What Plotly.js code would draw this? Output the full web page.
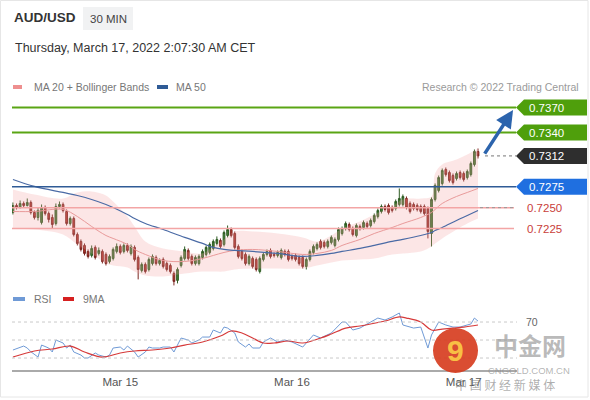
<!DOCTYPE html>
<html>
<head>
<meta charset="utf-8">
<script src="https://cdn.plot.ly/plotly-3.0.1.min.js"></script>
<style>html,body{margin:0;padding:0;background:#fff;}#chart{width:590px;height:400px;}</style>
</head>
<body>
<div id="chart"></div>
<script>
// ---------- DATA ----------
const startTime = Date.UTC(2022, 2, 14, 9, 0); // first 30-min candle
const stepMinutes = 30;

const openP = [
0.72442,0.72526,0.72502,0.72550,0.72526,0.72562,0.72442,0.72382,0.72322,0.72502,
0.72430,0.72382,0.72310,0.72514,0.72538,0.72454,0.72310,0.72370,0.72178,0.72095,
0.72047,0.71975,0.71927,0.72023,0.71951,0.71975,0.71939,0.71855,0.71891,0.71975,
0.72035,0.71975,0.72047,0.71951,0.72023,0.71903,0.71747,0.71819,0.71759,0.71831,
0.71903,0.71831,0.71879,0.71831,0.71807,0.71711,0.71628,0.71807,0.71891,0.71987,
0.71915,0.71831,0.71831,0.71903,0.71939,0.71963,0.72011,0.72071,0.72107,0.72059,
0.72166,0.72238,0.72190,0.72035,0.71975,0.71939,0.71831,0.71891,0.71879,0.71735,
0.71879,0.71939,0.71987,0.71939,0.71927,0.71903,0.71975,0.71975,0.71915,0.71927,
0.71903,0.71903,0.71795,0.71879,0.71963,0.72011,0.72095,0.72083,0.72035,0.72083,
0.72047,0.72119,0.72190,0.72250,0.72298,0.72250,0.72166,0.72274,0.72262,0.72310,
0.72286,0.72334,0.72394,0.72454,0.72514,0.72526,0.72502,0.72490,0.72538,0.72538,
0.72610,0.72550,0.72538,0.72526,0.72514,0.72514,0.72490,0.72190,0.72598,0.72706,
0.72789,0.72957,0.72921,0.72885,0.72849,0.72921,0.72909,0.72861,0.72897,0.73017,
0.73173];
const highP = [
0.72562,0.72550,0.72586,0.72574,0.72610,0.72586,0.72466,0.72502,0.72538,0.72526,
0.72454,0.72418,0.72550,0.72574,0.72562,0.72478,0.72394,0.72394,0.72202,0.72119,
0.72071,0.71999,0.72047,0.72047,0.72023,0.71999,0.71963,0.71939,0.72023,0.72071,
0.72059,0.72071,0.72071,0.72059,0.72047,0.71927,0.71843,0.71843,0.71903,0.71939,
0.71927,0.71891,0.71903,0.71855,0.71831,0.71735,0.71783,0.71927,0.72035,0.72011,
0.71939,0.71927,0.71939,0.71999,0.72047,0.72083,0.72119,0.72155,0.72131,0.72226,
0.72286,0.72262,0.72214,0.72059,0.71999,0.71963,0.71939,0.71915,0.71903,0.71915,
0.71963,0.71999,0.72011,0.71963,0.71987,0.72011,0.71999,0.71999,0.71939,0.71951,
0.71927,0.71927,0.71903,0.71999,0.72059,0.72083,0.72119,0.72107,0.72119,0.72166,
0.72143,0.72262,0.72274,0.72334,0.72322,0.72274,0.72310,0.72298,0.72346,0.72334,
0.72370,0.72430,0.72490,0.72538,0.72538,0.72550,0.72526,0.72598,0.72730,0.72658,
0.72634,0.72574,0.72562,0.72550,0.72538,0.72538,0.72514,0.72622,0.72790,0.72885,
0.72969,0.72981,0.72945,0.72909,0.72933,0.72945,0.72933,0.72957,0.73053,0.73197,
0.73209];
const lowP = [
0.72418,0.72478,0.72490,0.72502,0.72514,0.72418,0.72358,0.72346,0.72298,0.72406,
0.72322,0.72250,0.72286,0.72490,0.72442,0.72286,0.72286,0.72155,0.72047,0.71975,
0.71927,0.71891,0.71903,0.71879,0.71927,0.71831,0.71807,0.71831,0.71867,0.71951,
0.71939,0.71951,0.71963,0.71927,0.71855,0.71640,0.71723,0.71711,0.71735,0.71807,
0.71807,0.71807,0.71771,0.71735,0.71711,0.71568,0.71592,0.71783,0.71867,0.71867,
0.71807,0.71807,0.71807,0.71879,0.71915,0.71939,0.71987,0.72047,0.72011,0.72035,
0.72143,0.72143,0.71999,0.71891,0.71867,0.71807,0.71807,0.71771,0.71735,0.71711,
0.71855,0.71915,0.71891,0.71903,0.71903,0.71879,0.71915,0.71855,0.71867,0.71855,
0.71807,0.71771,0.71759,0.71855,0.71939,0.71987,0.71999,0.72011,0.72011,0.72059,
0.72023,0.72095,0.72166,0.72226,0.72214,0.72155,0.72143,0.72226,0.72238,0.72250,
0.72262,0.72310,0.72370,0.72430,0.72454,0.72418,0.72442,0.72466,0.72514,0.72514,
0.72478,0.72430,0.72466,0.72454,0.72430,0.72406,0.72131,0.72035,0.72574,0.72682,
0.72765,0.72873,0.72801,0.72777,0.72825,0.72837,0.72813,0.72837,0.72873,0.72993,
0.73089];
const closeP = [
0.72526,0.72502,0.72550,0.72526,0.72562,0.72442,0.72382,0.72466,0.72502,0.72430,
0.72358,0.72298,0.72514,0.72538,0.72466,0.72310,0.72370,0.72178,0.72071,0.71999,
0.71951,0.71915,0.72011,0.71903,0.71987,0.71855,0.71831,0.71915,0.71999,0.72035,
0.71963,0.72047,0.71987,0.72035,0.71879,0.71759,0.71819,0.71735,0.71879,0.71915,
0.71831,0.71867,0.71795,0.71759,0.71735,0.71616,0.71759,0.71903,0.71999,0.71891,
0.71831,0.71903,0.71915,0.71975,0.72023,0.72059,0.72095,0.72119,0.72035,0.72202,
0.72238,0.72166,0.72023,0.71915,0.71891,0.71831,0.71915,0.71795,0.71759,0.71891,
0.71939,0.71975,0.71915,0.71927,0.71963,0.71987,0.71939,0.71879,0.71891,0.71879,
0.71831,0.71795,0.71879,0.71975,0.72035,0.72059,0.72023,0.72035,0.72095,0.72143,
0.72119,0.72238,0.72250,0.72310,0.72238,0.72178,0.72286,0.72250,0.72322,0.72274,
0.72346,0.72406,0.72466,0.72514,0.72478,0.72442,0.72466,0.72574,0.72610,0.72634,
0.72502,0.72454,0.72490,0.72478,0.72454,0.72430,0.72214,0.72598,0.72766,0.72861,
0.72945,0.72897,0.72825,0.72801,0.72909,0.72861,0.72837,0.72933,0.73029,0.73173,
0.73120];

// Bollinger bands / moving averages read at selected candles
const bandIdx = [0,6,14,18,22,26,28,32,34,37,42,48,53,56,59,62,67,74,81,85,89,92,97,101,106,109,114,117,118,120,124,127,130];
const bbUpper = [0.72718,0.72658,0.72610,0.72682,0.72694,0.72646,0.72574,0.72394,0.72274,0.72095,0.72011,0.71975,0.71951,0.72035,0.72119,0.72214,0.72214,0.72190,0.72143,0.72095,0.72166,0.72250,0.72334,0.72418,0.72514,0.72598,0.72610,0.72634,0.72909,0.73017,0.73077,0.73137,0.73209];
const bbLower = [0.72250,0.72238,0.72178,0.72059,0.71951,0.71831,0.71807,0.71783,0.71735,0.71687,0.71675,0.71711,0.71735,0.71735,0.71735,0.71759,0.71771,0.71771,0.71771,0.71807,0.71843,0.71867,0.71879,0.71891,0.71939,0.71951,0.71975,0.72035,0.72071,0.72131,0.72238,0.72310,0.72370];
const ma20 = [0.72454,0.72454,0.72478,0.72394,0.72274,0.72166,0.72131,0.72059,0.71999,0.71939,0.71867,0.71855,0.71891,0.71927,0.71963,0.71987,0.71999,0.71975,0.71939,0.71951,0.71987,0.72047,0.72119,0.72190,0.72262,0.72310,0.72382,0.72442,0.72478,0.72550,0.72634,0.72682,0.72730];
const ma50 = [0.72837,0.72754,0.72682,0.72646,0.72598,0.72538,0.72502,0.72418,0.72370,0.72310,0.72238,0.72143,0.72071,0.72023,0.71999,0.71987,0.71975,0.71951,0.71915,0.71927,0.71951,0.71975,0.72011,0.72047,0.72095,0.72119,0.72166,0.72202,0.72226,0.72262,0.72346,0.72406,0.72466];

// RSI panel
const rsiIdx = [0,3,4,5,7,8,10,11,12,14,15,16,17,19,20,21,23,24,26,27,28,30,31,32,34,35,37,38,39,41,42,44,45,46,47,49,50,52,53,55,56,58,59,60,62,63,65,66,67,69,70,72,73,74,76,77,78,81,84,86,89,92,93,95,97,100,102,104,106,108,109,112,114,116,117,119,121,123,125,126,128,129,130];
const rsiVal = [38.9,43.3,41.1,37.0,31.1,44.4,41.1,36.7,50.0,46.7,41.1,44.4,36.7,33.3,30.0,30.0,35.6,33.3,31.1,33.3,41.1,42.2,38.9,43.3,36.7,31.1,36.7,42.2,41.1,41.1,42.2,42.2,36.7,44.4,52.2,50.0,46.7,50.0,53.3,53.3,61.1,57.8,64.4,63.3,57.8,47.8,42.2,45.6,41.1,41.1,47.8,52.2,50.0,47.8,50.0,48.9,47.8,42.2,55.6,52.2,57.8,70.0,70.0,61.1,63.3,70.0,74.4,72.2,75.6,80.0,66.7,63.3,64.4,41.1,55.6,70.0,66.7,64.4,64.4,65.6,67.8,74.4,71.0];
const rsiMaIdx = [0,6,11,16,20,25,30,34,39,44,48,53,58,61,64,67,70,73,77,81,86,89,93,97,100,104,108,110,114,117,120,123,126,130];
const rsiMaVal = [31.1,37.8,40.0,43.3,36.7,31.1,35.6,37.8,38.9,41.1,44.4,47.8,54.4,60.0,57.8,52.2,46.7,46.7,48.9,46.7,52.2,56.7,63.3,65.6,67.8,71.1,75.6,74.4,70.0,61.1,62.2,63.3,64.4,66.7];
const rsiLevels = [70, 50, 30];

// Key levels
const resistances = [0.7370, 0.7340];
const pivot = 0.7275;
const supports = [0.7250, 0.7225];
const lastPrice = 0.7312;
const tickVals = ['2022-03-15', '2022-03-16', '2022-03-17'];
const tickText = ['Mar 15', 'Mar 16', 'Mar 17'];

// ---------- BUILD ----------
function t(idx) {
  const d = new Date(startTime + idx * stepMinutes * 60000);
  return d.toISOString().slice(0, 16).replace('T', ' ');
}
const times = closeP.map((_, i) => t(i));
const bandT = bandIdx.map(t);

const FONT = 'Liberation Sans, Arial, sans-serif';
const traces = [
  {type: 'scatter', mode: 'lines', x: bandT, y: bbUpper, line: {width: 0, shape: 'spline'}, hoverinfo: 'skip', showlegend: false},
  {type: 'scatter', mode: 'lines', x: bandT, y: bbLower, line: {width: 0, shape: 'spline'}, fill: 'tonexty', fillcolor: 'rgba(244,160,160,0.26)', hoverinfo: 'skip', showlegend: false},
  {type: 'scatter', mode: 'lines', x: bandT, y: ma20, line: {width: 1, color: '#e99a9a', shape: 'spline'}, hoverinfo: 'skip', showlegend: false},
  {type: 'scatter', mode: 'lines', x: bandT, y: ma50, line: {width: 1.2, color: '#4a6aa5', shape: 'spline'}, hoverinfo: 'skip', showlegend: false},
  {type: 'candlestick', x: times, open: openP, high: highP, low: lowP, close: closeP,
   increasing: {line: {color: '#2f5d24', width: 1}, fillcolor: '#457f35'},
   decreasing: {line: {color: '#7a2620', width: 1}, fillcolor: '#b8352a'},
   whiskerwidth: 0, hoverinfo: 'skip', showlegend: false},
  {type: 'scatter', mode: 'lines', x: rsiIdx.map(t), y: rsiVal, xaxis: 'x', yaxis: 'y2', line: {width: 1, color: '#6f9ad6'}, hoverinfo: 'skip', showlegend: false},
  {type: 'scatter', mode: 'lines', x: rsiMaIdx.map(t), y: rsiMaVal, xaxis: 'x', yaxis: 'y2', line: {width: 1.2, color: '#d63a3a', shape: 'spline'}, hoverinfo: 'skip', showlegend: false}
];

// geometry helpers (plot area: 12..517 px wide, 0..370 px tall)
const L = 12, W = 505, H = 370;
const px = v => (v - L) / W;
const py = v => (H - v) / H;
const halfH = 0.00096;

const shapes = [];
const annotations = [];

// card border
shapes.push({type: 'rect', xref: 'paper', yref: 'paper', x0: px(0.5), x1: px(588), y0: py(397), y1: py(0.5), line: {color: '#e6e6e6', width: 1}});
// 30 MIN box
shapes.push({type: 'rect', xref: 'paper', yref: 'paper', x0: px(83), x1: px(133), y0: py(30), y1: py(7), fillcolor: '#f1f2f3', line: {width: 0}});

function tagBox(price, color) {
  const a = px(516), b = px(524), c = px(587);
  shapes.push({type: 'path', xref: 'paper', yref: 'y',
    path: `M ${a},${price} L ${b},${price + halfH} L ${c},${price + halfH} L ${c},${price - halfH} L ${b},${price - halfH} Z`,
    fillcolor: color, line: {width: 0}});
  annotations.push({xref: 'paper', yref: 'y', x: px(527), y: price, xanchor: 'left', yanchor: 'middle', text: price.toFixed(4),
    showarrow: false, font: {family: FONT, size: 11.5, color: '#ffffff'}});
}

resistances.forEach(p => {
  shapes.push({type: 'line', xref: 'paper', yref: 'y', x0: 0, x1: px(516), y0: p, y1: p, line: {color: '#5aa514', width: 2}});
  tagBox(p, '#4f9f0c');
});
shapes.push({type: 'line', xref: 'paper', yref: 'y', x0: 0, x1: px(516), y0: pivot, y1: pivot, line: {color: '#2f5b96', width: 1.5}});
tagBox(pivot, '#1f6fe0');
supports.forEach(p => {
  shapes.push({type: 'line', xref: 'paper', yref: 'y', x0: 0, x1: px(514), y0: p, y1: p, line: {color: '#f3a5a5', width: 1.5}});
  annotations.push({xref: 'paper', yref: 'y', x: px(525), y: p, xanchor: 'left', yanchor: 'middle', text: p.toFixed(4),
    showarrow: false, font: {family: FONT, size: 11.5, color: '#c9403a'}});
});
// last price dotted + tag
shapes.push({type: 'line', xref: 'paper', yref: 'y', x0: px(485), x1: px(516), y0: lastPrice, y1: lastPrice, line: {color: '#777', width: 1, dash: 'dot'}});
tagBox(lastPrice, '#2e2e2e');
// ma50 dotted extension
shapes.push({type: 'line', xref: 'paper', yref: 'y', x0: px(480), x1: px(514), y0: supports[0], y1: supports[0], line: {color: '#999', width: 1, dash: 'dot'}});

// RSI levels
rsiLevels.forEach(v => {
  shapes.push({type: 'line', xref: 'paper', yref: 'y2', x0: 0, x1: 1, y0: v, y1: v, line: {color: '#c9c9c9', width: 1, dash: 'dot'}});
});
annotations.push({xref: 'paper', yref: 'y2', x: px(524), y: 70, xanchor: 'left', yanchor: 'middle', text: '70', showarrow: false, font: {family: FONT, size: 10.5, color: '#666'}});

// arrow
annotations.push({xref: 'x', yref: 'y', x: t(139.8), y: 0.7367, axref: 'x', ayref: 'y', ax: t(131.6), ay: 0.73130,
  showarrow: true, arrowhead: 2, arrowsize: 1, arrowwidth: 3.5, arrowcolor: '#2c64ad', standoff: 0, text: ''});

// header texts
annotations.push({xref: 'paper', yref: 'paper', x: 0, y: py(18), xanchor: 'left', yanchor: 'middle', text: '<b>AUD/USD</b>', showarrow: false, font: {family: FONT, size: 13.5, color: '#333'}});
annotations.push({xref: 'paper', yref: 'paper', x: px(108), y: py(19), xanchor: 'center', yanchor: 'middle', text: '30 MIN', showarrow: false, font: {family: FONT, size: 11.5, color: '#444'}});
annotations.push({xref: 'paper', yref: 'paper', x: px(13), y: py(48), xanchor: 'left', yanchor: 'middle', text: 'Thursday, March 17, 2022 2:07:30 AM CET', showarrow: false, font: {family: FONT, size: 12.5, color: '#333'}});
// legend main
shapes.push({type: 'rect', xref: 'paper', yref: 'paper', x0: px(13), x1: px(22), y0: py(89), y1: py(85), fillcolor: '#ee8f8f', line: {width: 0}});
annotations.push({xref: 'paper', yref: 'paper', x: px(32), y: py(86.5), xanchor: 'left', yanchor: 'middle', text: 'MA 20 + Bollinger Bands', showarrow: false, font: {family: FONT, size: 10.5, color: '#777'}});
shapes.push({type: 'rect', xref: 'paper', yref: 'paper', x0: px(157), x1: px(168), y0: py(89), y1: py(85), fillcolor: '#2f5b96', line: {width: 0}});
annotations.push({xref: 'paper', yref: 'paper', x: px(174), y: py(86.5), xanchor: 'left', yanchor: 'middle', text: 'MA 50', showarrow: false, font: {family: FONT, size: 10.5, color: '#777'}});
annotations.push({xref: 'paper', yref: 'paper', x: px(581), y: py(86.5), xanchor: 'right', yanchor: 'middle', text: 'Research © 2022 Trading Central', showarrow: false, font: {family: FONT, size: 10.5, color: '#9a9a9a'}});
// legend RSI
shapes.push({type: 'rect', xref: 'paper', yref: 'paper', x0: px(13), x1: px(25), y0: py(301), y1: py(297), fillcolor: '#6f9ad6', line: {width: 0}});
annotations.push({xref: 'paper', yref: 'paper', x: px(32), y: py(298.5), xanchor: 'left', yanchor: 'middle', text: 'RSI', showarrow: false, font: {family: FONT, size: 10.5, color: '#777'}});
shapes.push({type: 'rect', xref: 'paper', yref: 'paper', x0: px(63), x1: px(74), y0: py(301), y1: py(297), fillcolor: '#d62020', line: {width: 0}});
annotations.push({xref: 'paper', yref: 'paper', x: px(81), y: py(298.5), xanchor: 'left', yanchor: 'middle', text: '9MA', showarrow: false, font: {family: FONT, size: 10.5, color: '#777'}});

// watermark (overlay present in the reference picture)
shapes.push({type: 'circle', xref: 'paper', yref: 'paper', x0: px(433), x1: px(478), y0: py(373), y1: py(328), fillcolor: 'rgba(214,58,28,0.9)', line: {width: 0}});
annotations.push({xref: 'paper', yref: 'paper', x: px(455), y: py(350), xanchor: 'center', yanchor: 'middle', text: '<b>9</b>', showarrow: false, font: {family: FONT, size: 30, color: 'rgba(250,200,70,0.95)'}});
annotations.push({xref: 'paper', yref: 'paper', x: px(530), y: py(344), xanchor: 'center', yanchor: 'middle',
  text: '<b>中金网</b>', showarrow: false, font: {family: 'Noto Sans CJK SC', size: 24, color: 'rgba(140,140,140,0.6)'}});
annotations.push({xref: 'paper', yref: 'paper', x: px(529), y: py(370), xanchor: 'center', yanchor: 'middle', text: 'CNGOLD.COM.CN', showarrow: false, font: {family: FONT, size: 9.5, color: 'rgba(140,140,140,0.65)'}});
annotations.push({xref: 'paper', yref: 'paper', x: px(505), y: py(384), xanchor: 'center', yanchor: 'middle', text: '中 国 财 经 新 媒 体', showarrow: false, font: {family: 'Noto Sans CJK SC', size: 12, color: 'rgba(120,120,120,0.6)'}});

const layout = {
  width: 590, height: 400,
  margin: {l: L, r: 590 - L - W, t: 0, b: 30},
  paper_bgcolor: '#ffffff', plot_bgcolor: 'rgba(0,0,0,0)',
  showlegend: false, hovermode: false, dragmode: false,
  font: {family: FONT},
  xaxis: {type: 'date', range: ['2022-03-14 08:52', '2022-03-17 07:27'], anchor: 'y2',
    tickvals: tickVals, ticktext: tickText, ticks: '', showgrid: false, zeroline: false,
    showline: true, linecolor: '#aaaaaa', linewidth: 2,
    tickfont: {family: FONT, size: 11.5, color: '#555'}, rangeslider: {visible: false}, fixedrange: true},
  yaxis: {domain: [py(290), py(95)], range: [0.71513, 0.73850], visible: false, fixedrange: true},
  yaxis2: {domain: [0, py(305)], range: [16.7, 88.9], visible: false, fixedrange: true},
  shapes: shapes,
  annotations: annotations
};

Plotly.newPlot('chart', traces, layout, {displayModeBar: false, staticPlot: true});
</script>
</body>
</html>
